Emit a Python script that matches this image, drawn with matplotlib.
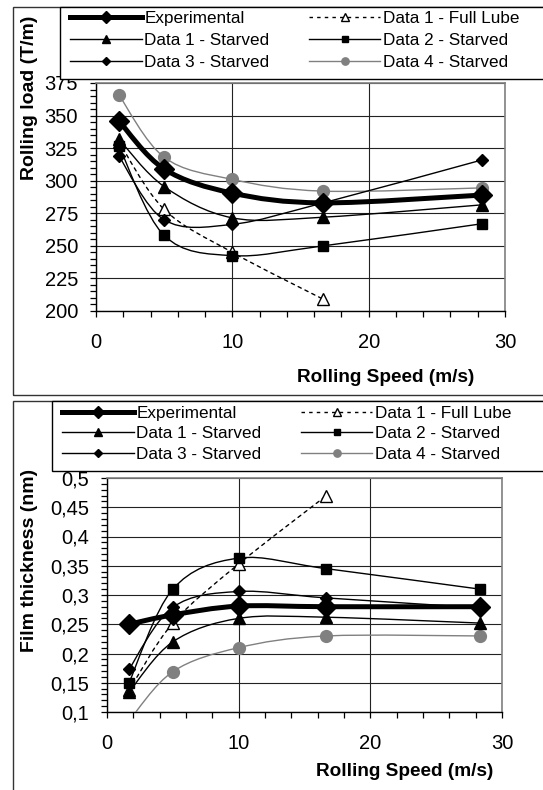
import numpy as np
import matplotlib
matplotlib.use("Agg")
import matplotlib.pyplot as plt
from matplotlib.path import Path
from matplotlib.patches import PathPatch, Rectangle
from matplotlib.lines import Line2D
from matplotlib.ticker import MultipleLocator, FixedLocator, FixedFormatter

plt.rcParams['font.family'] = ['Liberation Sans', 'DejaVu Sans']

# rolling speeds (m/s)
speed = [1.67, 5.0, 10.0, 16.67, 28.33]

# top panel: rolling load (T/m)
load_exp = [346, 309, 290.5, 283, 289]
load_d1_full = [330, 278, 245, 209]
load_d1_starved = [332, 295.5, 271.5, 272, 281.5]
load_d2_starved = [327, 258, 242.5, 250, 267]
load_d3_starved = [319, 270, 266.5, 283, 316]
load_d4_starved = [366, 318, 301, 292, 294.5]

# bottom panel: film thickness (nm)
film_exp = [0.25, 0.266, 0.281, 0.280, 0.280]
film_d1_full = [0.137, 0.252, 0.353, 0.47]
film_d1_starved = [0.134, 0.22, 0.26, 0.262, 0.252]
film_d2_starved = [0.15, 0.31, 0.363, 0.345, 0.31]
film_d3_starved = [0.173, 0.279, 0.306, 0.295, 0.278]
film_d4_starved = [0.085, 0.169, 0.21, 0.23, 0.23]

load_ticks = [200, 225, 250, 275, 300, 325, 350, 375]
film_ticks = [0.1, 0.15, 0.2, 0.25, 0.3, 0.35, 0.4, 0.45, 0.5]
film_ticklabels = ['0,1', '0,15', '0,2', '0,25', '0,3', '0,35', '0,4', '0,45', '0,5']
speed_ticks = [0, 10, 20, 30]

labels = ['Experimental', 'Data 1 - Starved', 'Data 3 - Starved',
          'Data 1 - Full Lube', 'Data 2 - Starved', 'Data 4 - Starved']

W, H = 543, 790
GREY = '#808080'


def fx(px):
    return px / W


def fy(py):
    return 1 - py / H


def smooth(ax, x, y, **kw):
    # excel-like smoothed line: catmull-rom segments as cubic bezier
    pts = np.column_stack([x, y]).astype(float)
    n = len(pts)
    verts = [pts[0]]
    codes = [Path.MOVETO]
    for i in range(n - 1):
        p0 = pts[max(i - 1, 0)]
        p1 = pts[i]
        p2 = pts[i + 1]
        p3 = pts[min(i + 2, n - 1)]
        verts += [p1 + (p2 - p0) / 6, p2 - (p3 - p1) / 6, p2]
        codes += [Path.CURVE4] * 3
    ax.add_patch(PathPatch(Path(verts, codes), facecolor='none', **kw))


series_style = [
    # (key, color, lw, ls, marker, ms, mfc)
    ('exp', 'black', 3.6, '-', 'D', 10.5, 'black'),
    ('d1s', 'black', 1.0, '-', '^', 8.5, 'black'),
    ('d3s', 'black', 1.0, '-', 'D', 6.5, 'black'),
    ('d1f', 'black', 1.0, (0, (2.5, 3)), '^', 8.5, 'white'),
    ('d2s', 'black', 1.0, '-', 's', 7, 'black'),
    ('d4s', GREY, 1.0, '-', 'o', 8.5, GREY),
]


def draw_panel(ax, data):
    order = ['d4s', 'd1f', 'd2s', 'd3s', 'd1s', 'exp']
    st = {s[0]: s for s in series_style}
    for key in order:
        _, c, lw, ls, m, ms, mfc = st[key]
        y = data[key]
        x = speed[:len(y)]
        smooth(ax, x, y, edgecolor=c, lw=lw, linestyle=ls, zorder=3,
               capstyle='round', joinstyle='round')
        ax.plot(x, y, ls='none', marker=m, ms=ms, mfc=mfc, mec=c,
                mew=1.0, zorder=4)
    ax.set_xlim(0, 30)
    ax.xaxis.set_major_locator(FixedLocator(speed_ticks))
    ax.xaxis.set_minor_locator(MultipleLocator(2))
    ax.grid(True, which='major', color='#222222', lw=0.8)
    ax.set_axisbelow(True)
    for side in ['top', 'right']:
        ax.spines[side].set_color(GREY)
        ax.spines[side].set_linewidth(1.2)
    for side in ['left', 'bottom']:
        ax.spines[side].set_color('black')
        ax.spines[side].set_linewidth(1.0)
    ax.tick_params(which='both', direction='out', length=4, width=0.9,
                   labelsize=14.5, color='black')
    ax.tick_params(axis='x', which='both', pad=12)
    ax.tick_params(axis='y', which='both', pad=9)


fig = plt.figure(figsize=(W / 100, H / 100), dpi=100)

# panel frames
fig.patches.append(Rectangle((fx(13), fy(395)), fx(560) - fx(13), fy(7) - fy(395),
                             transform=fig.transFigure, fill=False, lw=1.0,
                             ec='#333333', zorder=0))
fig.patches.append(Rectangle((fx(13), fy(800)), fx(560) - fx(13), fy(401) - fy(800),
                             transform=fig.transFigure, fill=False, lw=1.0,
                             ec='#333333', zorder=0))

ax1 = fig.add_axes([fx(96), fy(311), fx(505) - fx(96), fy(83) - fy(311)])
draw_panel(ax1, {'exp': load_exp, 'd1f': load_d1_full, 'd1s': load_d1_starved,
                 'd2s': load_d2_starved, 'd3s': load_d3_starved, 'd4s': load_d4_starved})
ax1.set_ylim(200, 375)
ax1.yaxis.set_major_locator(FixedLocator(load_ticks))
ax1.yaxis.set_minor_locator(MultipleLocator(5))

ax2 = fig.add_axes([fx(107), fy(712), fx(502) - fx(107), fy(478) - fy(712)])
draw_panel(ax2, {'exp': film_exp, 'd1f': film_d1_full, 'd1s': film_d1_starved,
                 'd2s': film_d2_starved, 'd3s': film_d3_starved, 'd4s': film_d4_starved})
ax2.set_ylim(0.1, 0.5)
ax2.yaxis.set_major_locator(FixedLocator(film_ticks))
ax2.yaxis.set_major_formatter(FixedFormatter(film_ticklabels))
ax2.yaxis.set_minor_locator(MultipleLocator(0.01))

# axis titles
fig.text(fx(386), fy(377), 'Rolling Speed (m/s)', ha='center', va='center',
         fontsize=13.7, fontweight='bold')
fig.text(fx(405), fy(772), 'Rolling Speed (m/s)', ha='center', va='center',
         fontsize=13.7, fontweight='bold')
fig.text(fx(30), fy(98), 'Rolling load (T/m)', ha='center', va='center',
         rotation=90, fontsize=14, fontweight='bold')
fig.text(fx(30), fy(560), 'Film thickness (nm)', ha='center', va='center',
         rotation=90, fontsize=14, fontweight='bold')

# legends
st = {s[0]: s for s in series_style}
handles = []
for key in ['exp', 'd1s', 'd3s', 'd1f', 'd2s', 'd4s']:
    _, c, lw, ls, m, ms, mfc = st[key]
    handles.append(Line2D([], [], color=c, lw=lw, ls=ls, marker=m,
                          ms=ms * 0.62, mfc=mfc, mec=c))

for left, top, bottom, text_top, spacing in [(60, 7, 79, 11, 0.40),
                                              (52, 401, 471, 406, 0.32)]:
    fig.patches.append(Rectangle((fx(left), fy(bottom)), fx(560) - fx(left),
                                 fy(top) - fy(bottom), transform=fig.transFigure,
                                 fc='white', ec='black', lw=1.0, zorder=5))
    leg = fig.legend(handles, labels, ncol=2, loc='upper left',
                     bbox_to_anchor=(fx(left + 10), fy(text_top)), frameon=False,
                     fontsize=12.3, handlelength=4.2, handletextpad=0.15,
                     columnspacing=2.3, labelspacing=spacing, borderpad=0,
                     borderaxespad=0)
    leg.set_zorder(6)

fig.savefig('out.png', dpi=100)
